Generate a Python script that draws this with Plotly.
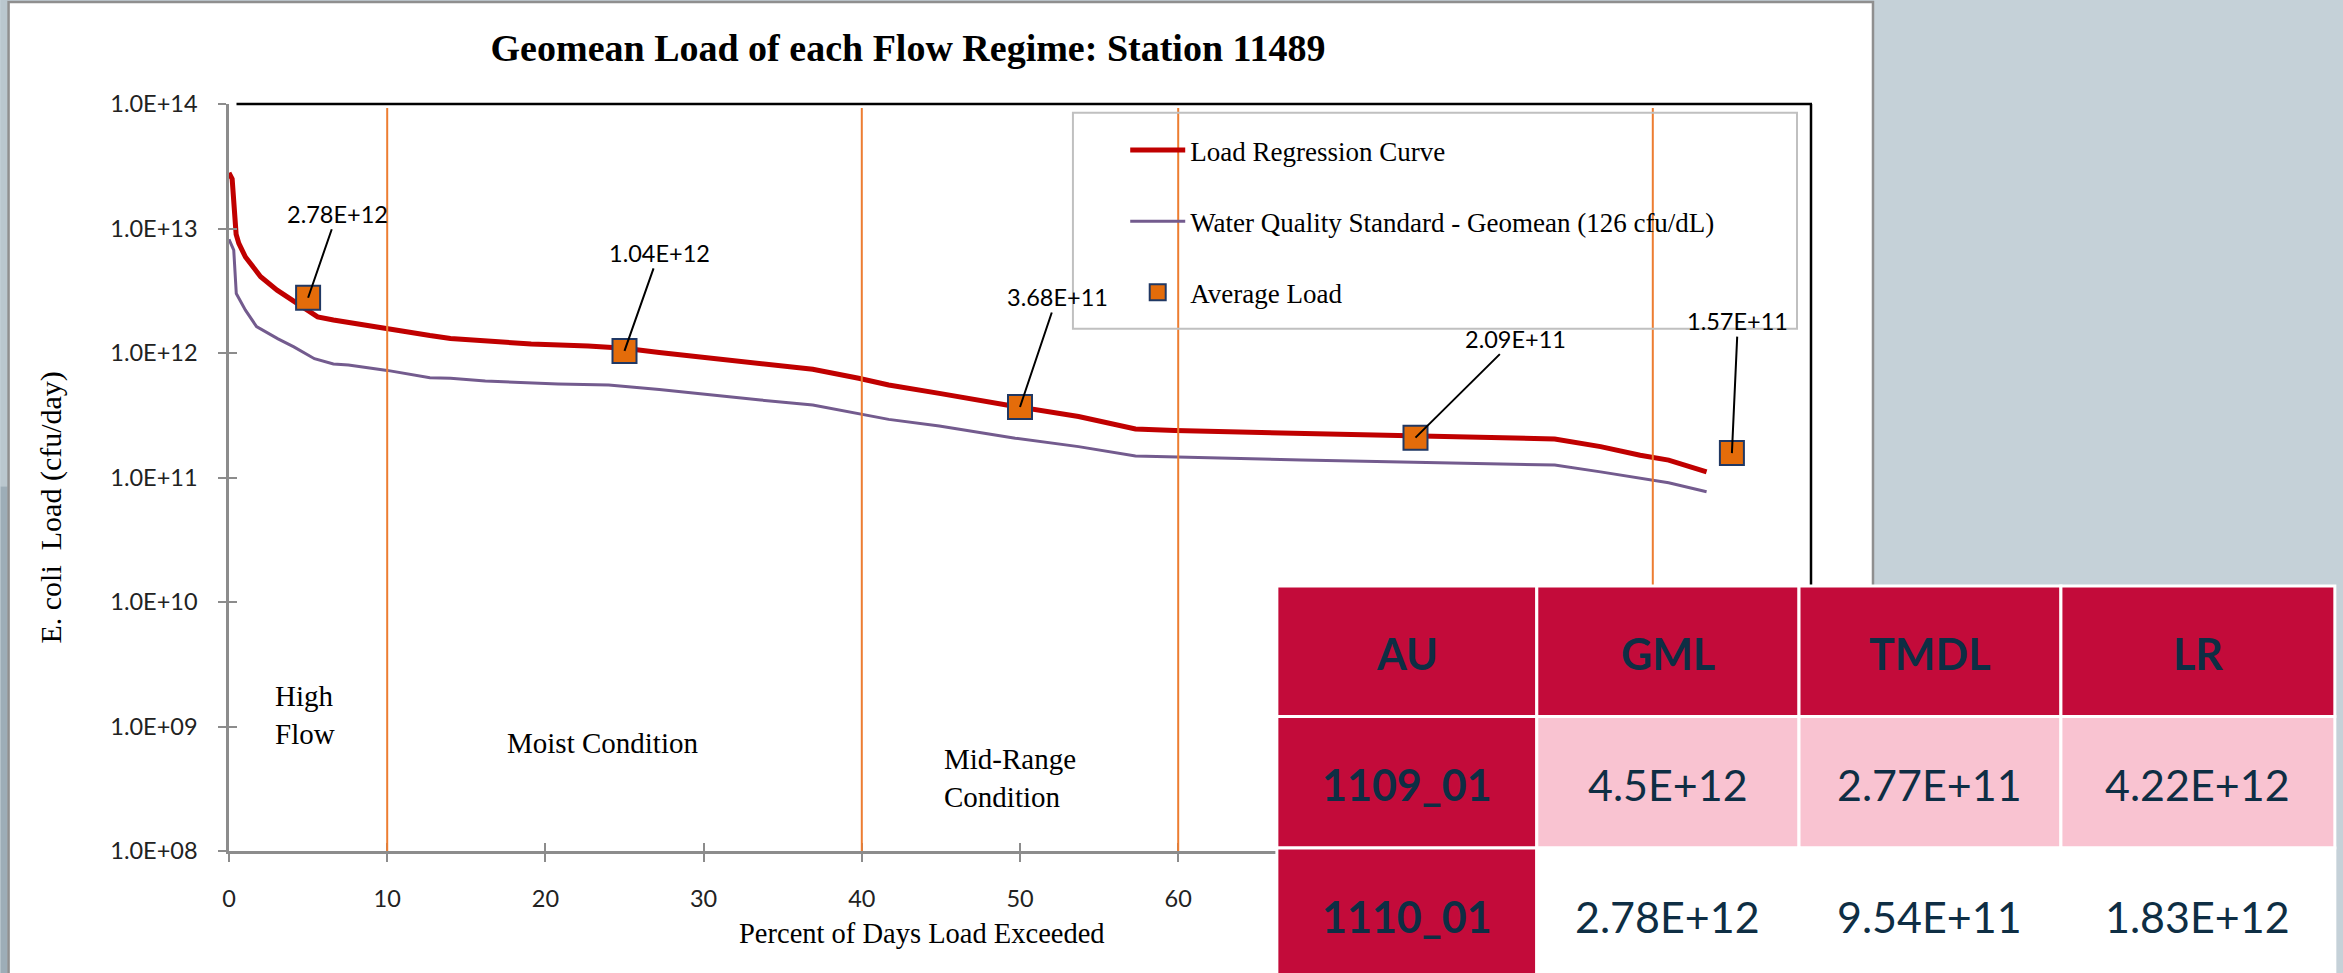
import plotly.graph_objects as go
import numpy as np

# ---------------- data ----------------
pct_exceeded = [0, 0.2, 0.45, 0.62, 1.04, 1.74, 2.0, 3.04, 4.1, 5.13, 5.6, 6.6, 7.5, 10.0,
                12.7, 14.0, 15.9, 19.1, 22.7, 25.0, 27.2, 30.4, 33.6, 36.9, 39.8, 41.7,
                44.9, 46.0, 48.5, 49.7, 53.7, 57.3, 59.8, 67.8, 75.0, 83.8, 86.7, 89.2,
                91.0, 93.4]
load_regression = [2.8e13, 2.5e13, 9.0e12, 7.6e12, 5.9e12, 4.4e12, 4.1e12, 3.2e12, 2.6e12,
                   2.15e12, 1.95e12, 1.84e12, 1.76e12, 1.55e12, 1.38e12, 1.31e12, 1.26e12,
                   1.18e12, 1.14e12, 1.09e12, 1.01e12, 9.06e11, 8.26e11, 7.4e11, 6.27e11,
                   5.53e11, 4.74e11, 4.46e11, 3.94e11, 3.72e11, 3.09e11, 2.45e11, 2.38e11,
                   2.26e11, 2.13e11, 2.04e11, 1.77e11, 1.51e11, 1.38e11, 1.11e11]

pct_wqs = [0, 0.3, 0.46, 1.04, 1.74, 3.1, 4.1, 5.4, 6.6, 7.55, 10.0, 12.7, 14.0, 16.2, 20.8,
           24.0, 27.2, 30.4, 33.6, 36.9, 39.8, 41.7, 44.9, 48.5, 49.7, 53.7, 57.3, 67.8,
           75.0, 83.8, 86.7, 89.2, 91.0, 93.4]
wqs_geomean = [8.2e12, 6.7e12, 3.0e12, 2.21e12, 1.63e12, 1.3e12, 1.12e12, 9.0e11, 8.17e11,
               8.0e11, 7.25e11, 6.34e11, 6.27e11, 5.96e11, 5.64e11, 5.53e11, 5.1e11, 4.6e11,
               4.19e11, 3.82e11, 3.27e11, 2.93e11, 2.59e11, 2.19e11, 2.07e11, 1.77e11,
               1.49e11, 1.38e11, 1.32e11, 1.26e11, 1.11e11, 9.86e10, 9.08e10, 7.69e10]

avg_pct = [5, 25, 50, 75, 95]
avg_load = [2.78e12, 1.04e12, 3.68e11, 2.09e11, 1.57e11]
avg_labels = ["2.78E+12", "1.04E+12", "3.68E+11", "2.09E+11", "1.57E+11"]

regime_bounds = [10, 40, 60, 90]
regime_names = ["High<br>Flow", "Moist Condition", "Mid-Range<br>Condition"]

y_tickvals = [1e8, 1e9, 1e10, 1e11, 1e12, 1e13, 1e14]
y_ticktext = ["1.0E+08", "1.0E+09", "1.0E+10", "1.0E+11", "1.0E+12", "1.0E+13", "1.0E+14"]
x_tickvals = [0, 10, 20, 30, 40, 50, 60, 70, 80, 90, 100]
# labels 70-100 sit underneath the overlaid table in the reference
x_ticktext = ["0", "10", "20", "30", "40", "50", "60", "", "", "", ""]

table_header = ["AU", "GML", "TMDL", "LR"]
table_au = ["1109_01", "1110_01"]
table_gml = ["4.5E+12", "2.78E+12"]
table_tmdl = ["2.77E+11", "9.54E+11"]
table_lr = ["4.22E+12", "1.83E+12"]

# ---------------- geometry helpers ----------------
W, H = 2343, 973
PL, PR, PT, PB = 228.5, 1811.0, 104.0, 851.0


def px(x):
    return (x - PL) / (PR - PL)


def py(y):
    return (PB - y) / (PB - PT)


SERIF = "Liberation Serif"
SANS = "Lato"
RED = "#C00000"
PURPLE = "#735B8E"
ORANGE = "#ED7D31"
GRAY = "#8C8C8C"

fig = go.Figure()

fig.add_trace(go.Scatter(x=pct_exceeded, y=load_regression, mode="lines",
                         name="Load Regression Curve",
                         line=dict(color=RED, width=5), legendgroup="a"))
fig.add_trace(go.Scatter(x=pct_wqs, y=wqs_geomean, mode="lines",
                         name="Water Quality Standard - Geomean (126 cfu/dL)",
                         line=dict(color=PURPLE, width=3), legendgroup="b"))
fig.add_trace(go.Scatter(x=avg_pct, y=avg_load, mode="markers", name="Average Load",
                         marker=dict(symbol="square", size=24, color="#E46C0A",
                                     line=dict(color="#203864", width=2)),
                         legendgroup="c"))
# dummy trace for the overlay axes (inside tick marks)
fig.add_trace(go.Scatter(x=[None], y=[None], xaxis="x2", yaxis="y2", showlegend=False,
                         hoverinfo="skip"))

shapes = []
# background card
shapes.append(dict(type="rect", xref="paper", yref="paper", x0=px(0), x1=px(7),
                   y0=py(0), y1=py(H / 2), fillcolor="#BAC7CE", line=dict(width=0),
                   layer="below"))
shapes.append(dict(type="rect", xref="paper", yref="paper", x0=px(0), x1=px(7),
                   y0=py(H / 2), y1=py(H), fillcolor="#9DADB7", line=dict(width=0),
                   layer="below"))
shapes.append(dict(type="rect", xref="paper", yref="paper", x0=px(8), x1=px(1873),
                   y0=py(2), y1=py(H + 10), fillcolor="white",
                   line=dict(color="#8F8F8F", width=2.5), layer="below"))

# regime boundary lines
for b in regime_bounds:
    shapes.append(dict(type="line", xref="x", yref="paper", x0=b, x1=b, y0=0, y1=py(108),
                       line=dict(color=ORANGE, width=2), layer="above"))

# black top / right frame
shapes.append(dict(type="line", xref="paper", yref="paper", x0=px(236), x1=px(1812),
                   y0=1, y1=1, line=dict(color="black", width=2.5), layer="above"))
shapes.append(dict(type="line", xref="paper", yref="paper", x0=1, x1=1,
                   y0=1, y1=0, line=dict(color="black", width=2.5), layer="above"))

# legend box
shapes.append(dict(type="rect", xref="paper", yref="paper", x0=px(1072.7), x1=px(1797),
                   y0=py(112.7), y1=py(328.7), line=dict(color="#C0C0C0", width=2),
                   fillcolor="rgba(0,0,0,0)", layer="above"))

annotations = []
# data labels with leader lines
label_offsets = [(29, -84), (34.5, -98), (37, -110), (100, -99), (6, -132)]
for xv, yv, lab, (ax, ay) in zip(avg_pct, avg_load, avg_labels, label_offsets):
    annotations.append(dict(x=xv, y=np.log10(yv), xref="x", yref="y", text=lab,
                            showarrow=True, arrowhead=0, arrowwidth=2, arrowcolor="black",
                            ax=ax, ay=ay, standoff=0,
                            font=dict(family=SANS, size=23.5, color="black")))

# regime labels
regime_pos = [(273, 715), (505, 743), (942, 778)]
for name, (lx, ly) in zip(regime_names, regime_pos):
    annotations.append(dict(x=px(lx), y=py(ly), xref="paper", yref="paper", text=name,
                            showarrow=False, xanchor="left", yanchor="middle", align="left",
                            font=dict(family=SERIF, size=29, color="black")))

# axis titles
annotations.append(dict(x=px(922), y=py(933), xref="paper", yref="paper",
                        text="Percent of Days Load Exceeded", showarrow=False,
                        xanchor="center", yanchor="middle",
                        font=dict(family=SERIF, size=28.5, color="black")))
annotations.append(dict(x=px(50), y=py(508), xref="paper", yref="paper",
                        text="E. coli  Load (cfu/day)", showarrow=False, textangle=-90,
                        xanchor="center", yanchor="middle",
                        font=dict(family=SERIF, size=30, color="black")))

# ---------------- table overlay ----------------
col_edges = [1276.7, 1536.7, 1799.0, 2061.0, 2335.0]
row_edges = [586.0, 716.5, 848.0, 980.0]
CRIMSON = "#C30B3A"
PINK = "#F9C3D1"
NAVY = "#0E2E44"
body_rows = list(zip(table_au, table_gml, table_tmdl, table_lr))
row_fill = [PINK, "white"]
all_rows = [table_header] + [list(r) for r in body_rows]
for ri, row in enumerate(all_rows):
    for ci, txt in enumerate(row):
        x0, x1 = col_edges[ci], col_edges[ci + 1]
        y0, y1 = row_edges[ri], row_edges[ri + 1]
        if ri == 0 or ci == 0:
            fill = CRIMSON
            label = "<b>%s</b>" % txt
        else:
            fill = row_fill[ri - 1]
            label = txt
        shapes.append(dict(type="rect", xref="paper", yref="paper", x0=px(x0), x1=px(x1),
                           y0=py(y0), y1=py(y1), fillcolor=fill,
                           line=dict(color="white", width=3), layer="above"))
        annotations.append(dict(x=px((x0 + x1) / 2), y=py((y0 + y1) / 2 + 2),
                                xref="paper", yref="paper", text=label, showarrow=False,
                                xanchor="center", yanchor="middle",
                                font=dict(family=SANS, size=43, color=NAVY)))

fig.update_layout(
    width=W, height=H,
    margin=dict(l=PL, r=W - PR, t=PT, b=H - PB, pad=0),
    paper_bgcolor="#C5D1D8",
    plot_bgcolor="rgba(0,0,0,0)",
    title=dict(text="<b>Geomean Load of each Flow Regime: Station 11489</b>",
               xref="container", yref="container", x=908 / W, y=1 - 48 / H,
               xanchor="center", yanchor="middle",
               font=dict(family=SERIF, size=38, color="black")),
    xaxis=dict(range=[0, 100], tickvals=x_tickvals, ticktext=x_ticktext, ticks="outside",
               ticklen=8, tickwidth=2, tickcolor=GRAY, showline=True, linecolor=GRAY,
               linewidth=2.5, showgrid=False, zeroline=False, ticklabelstandoff=17,
               tickfont=dict(family=SANS, size=23.5, color="#222222")),
    yaxis=dict(type="log", range=[8, 14], tickvals=y_tickvals, ticktext=y_ticktext,
               ticks="outside", ticklen=8, tickwidth=2, tickcolor=GRAY, showline=True,
               linecolor=GRAY, linewidth=2.5, showgrid=False, zeroline=False,
               ticklabelstandoff=16,
               tickfont=dict(family=SANS, size=23.5, color="#222222")),
    xaxis2=dict(overlaying="x", anchor="y", range=[0, 100], tickvals=x_tickvals,
                ticks="inside", ticklen=8, tickwidth=2, tickcolor=GRAY,
                showticklabels=False, showline=False, showgrid=False, zeroline=False),
    yaxis2=dict(overlaying="y", anchor="x", type="log", range=[8, 14], tickvals=y_tickvals,
                ticks="inside", ticklen=8, tickwidth=2, tickcolor=GRAY,
                showticklabels=False, showline=False, showgrid=False, zeroline=False),
    legend=dict(x=px(1125), y=py(126), xanchor="left", yanchor="top",
                bgcolor="rgba(0,0,0,0)", borderwidth=0, tracegroupgap=33,
                traceorder="grouped", itemwidth=55,
                font=dict(family=SERIF, size=27, color="black")),
    shapes=shapes,
    annotations=annotations,
    showlegend=True,
)

fig.write_html("out.html", config={"displayModeBar": False},
               post_script="document.body.style.margin='0';document.body.style.overflow='hidden';")
